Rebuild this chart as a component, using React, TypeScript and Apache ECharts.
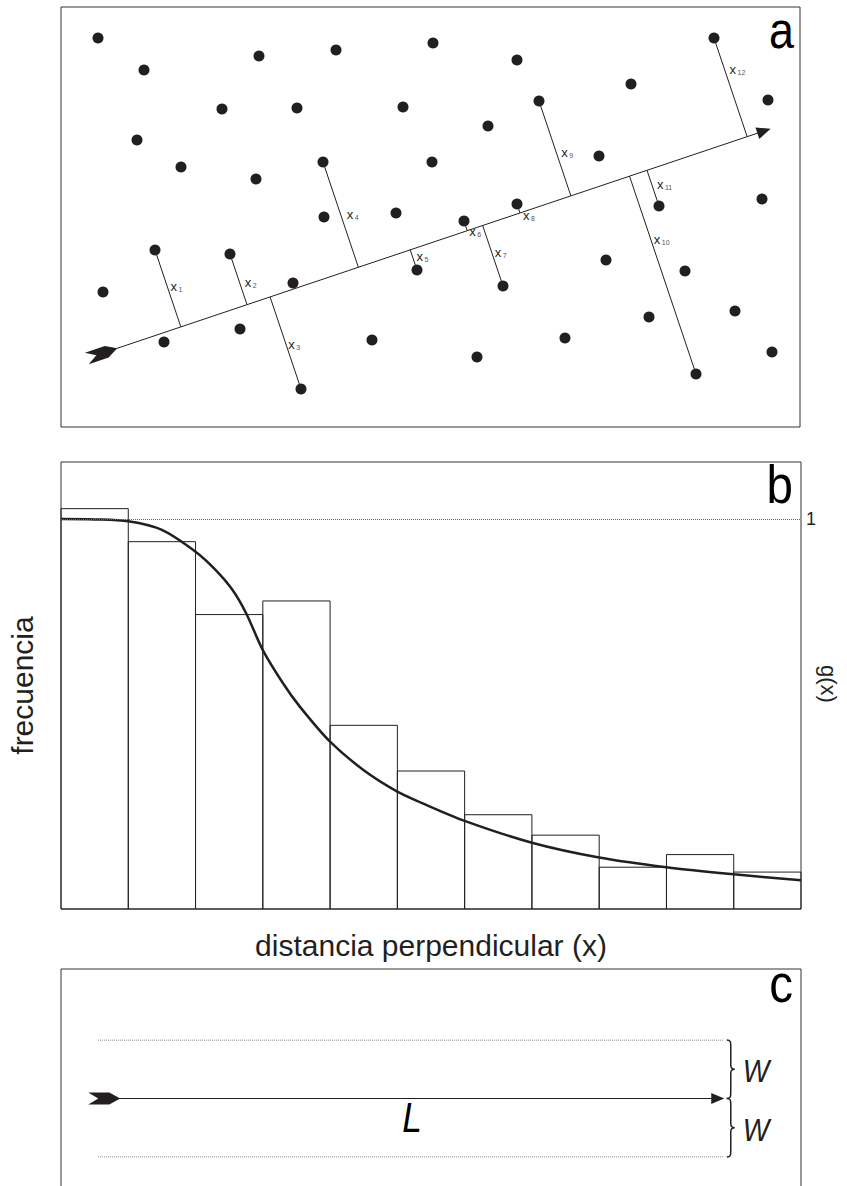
import React, { useEffect, useRef } from 'react';
import * as echarts from 'echarts';

// ---------- Panel a: objects in the study area (units: x from left, y from bottom) ----------
const DOT_X = [37, 83, 198, 275, 372, 456, 653, 161, 236, 342, 427, 478, 570, 707, 76, 120, 195, 262, 371, 538, 263, 335, 403, 456, 598, 701, 94, 169, 42, 232, 356, 442, 545, 624, 103, 179, 240, 311, 416, 504, 588, 674, 635, 711];
const DOT_Y = [389, 357, 371, 377, 384, 367, 389, 318, 319, 320, 301, 326, 343, 327, 287, 260, 248, 265, 265, 271, 210, 214, 206, 223, 221, 228, 177, 173, 135, 144, 157, 141, 167, 156, 85, 98, 38, 87, 70, 89, 110, 116, 53, 75];
const TRANSECT_START = [41, 73.6];
const TRANSECT_END = [703, 296];
// indices (into DOT_X / DOT_Y) of the detected objects x1 ... x12
const DETECTED = [26, 27, 36, 17, 30, 22, 31, 23, 11, 42, 24, 6];
const DETECTED_LABELS = ['1', '2', '3', '4', '5', '6', '7', '8', '9', '10', '11', '12'];

// ---------- Panel b: histogram of perpendicular distances and detection function ----------
const BIN_FREQ = [41.2, 37.8, 30.3, 31.7, 18.9, 14.2, 9.7, 7.6, 4.3, 5.6, 3.8];
const G_X = [0, 0.5, 1, 1.5, 2, 2.3, 2.55, 2.75, 3, 3.3, 3.55, 4, 4.5, 5, 5.35, 6, 7, 8, 9, 10, 11];
const G_Y = [1.0, 0.999, 0.994, 0.972, 0.916, 0.869, 0.818, 0.759, 0.664, 0.579, 0.519, 0.429, 0.356, 0.301, 0.273, 0.226, 0.17, 0.132, 0.107, 0.089, 0.074];
const FREQ_MAX = 46;
const G_MAX = 1.1462;

// ---------- Panel c: strip transect ----------
const STRIP_LENGTH = 100; // L
const STRIP_HALF_WIDTH = 1; // w
const TRANSECT_C = [1, 99];
const BRACE_AT = 100.6;

// ---------- layout / style constants ----------
const INK = '#231f20';
const FONT = '"Liberation Sans", Arial, sans-serif';
const FLETCH = 'path://M0,0 L6,10 L12,0 L12,21 L6,32 L0,21 Z';
const LABEL_T = [0.48, 0.57, 0.48, 0.5, 0.65, 1, 0.55, 1, 0.54, 0.68, 0.59, 0.32];
const LABEL_DX = [3, 5, 2, 6, 4, 2, 3, 3, 5, 3, 5, 5];
const LABEL_DY = [0, 0, 0, 0, 0, 1, 0, 3, 0, 0, 0, 0];

function footOnTransect(px: number, py: number): number[] {
  const [ax, ay] = TRANSECT_START;
  const [bx, by] = TRANSECT_END;
  const dx = bx - ax;
  const dy = by - ay;
  const t = ((px - ax) * dx + (py - ay) * dy) / (dx * dx + dy * dy);
  return [ax + t * dx, ay + t * dy];
}

function panelLetter(text: string, x: number, y: number, size: number) {
  return {
    type: 'text', silent: true, x, y, scaleX: 0.88,
    style: {
      text, fill: '#000', fontSize: size, lineHeight: 36, fontFamily: FONT,
      align: 'right', verticalAlign: 'middle', textAlign: 'right', textVerticalAlign: 'middle',
    },
  };
}

export default function App() {
  const ref = useRef<HTMLDivElement>(null);

  useEffect(() => {
    if (!ref.current) return;
    const chart = echarts.init(ref.current, undefined, { renderer: 'svg' });

    const gridBase = { outerBoundsMode: 'none', containLabel: false, backgroundColor: 'transparent' };

    const option: any = {
      animation: false,
      textStyle: { fontFamily: FONT },
      grid: [
        { ...gridBase, left: 61, top: 7, width: 739, height: 420, show: true, borderColor: '#333', borderWidth: 1 },
        { ...gridBase, left: 61, top: 462, width: 740, height: 447, show: true, borderColor: '#333', borderWidth: 1 },
        { ...gridBase, left: 98, top: 1040, width: 626, height: 117, show: false },
      ],
      xAxis: [
        { gridIndex: 0, type: 'value', min: 0, max: 739, show: false },
        {
          gridIndex: 1, type: 'value', min: 0, max: BIN_FREQ.length,
          axisLine: { show: false }, axisTick: { show: false }, axisLabel: { show: false }, splitLine: { show: false },
          name: 'distancia perpendicular (x)', nameLocation: 'middle', nameGap: 21,
          nameTextStyle: { fontSize: 30, color: INK, fontFamily: FONT },
        },
        { gridIndex: 2, type: 'value', min: 0, max: STRIP_LENGTH, show: false },
      ],
      yAxis: [
        { gridIndex: 0, type: 'value', min: 0, max: 420, show: false },
        {
          gridIndex: 1, type: 'value', min: 0, max: FREQ_MAX,
          axisLine: { show: false }, axisTick: { show: false }, axisLabel: { show: false }, splitLine: { show: false },
          name: 'frecuencia', nameLocation: 'middle', nameRotate: 90, nameGap: 24,
          nameTextStyle: { fontSize: 30, color: INK, fontFamily: FONT },
        },
        {
          gridIndex: 1, type: 'value', position: 'right', min: 0, max: G_MAX, interval: 1,
          axisLine: { show: false }, axisTick: { show: false }, splitLine: { show: false },
          axisLabel: {
            margin: 5, fontSize: 18, color: INK, fontFamily: FONT,
            formatter: (v: number) => (Math.abs(v - 1) < 1e-6 ? '1' : ''),
          },
        },
        { gridIndex: 2, type: 'value', min: -STRIP_HALF_WIDTH, max: STRIP_HALF_WIDTH, show: false },
      ],
      series: [
        // perpendicular distances x1..x12
        {
          type: 'custom', xAxisIndex: 0, yAxisIndex: 0, z: 2, silent: true,
          data: DETECTED.map((d, i) => [DOT_X[d], DOT_Y[d], i]),
          encode: { x: 0, y: 1 },
          renderItem: (_p: any, api: any) => {
            const px = api.value(0);
            const py = api.value(1);
            const i = api.value(2);
            const foot = footOnTransect(px, py);
            const p0 = api.coord([px, py]);
            const p1 = api.coord(foot);
            const t = LABEL_T[i];
            const lx = p0[0] + (p1[0] - p0[0]) * t + LABEL_DX[i];
            const ly = p0[1] + (p1[1] - p0[1]) * t + LABEL_DY[i];
            return {
              type: 'group',
              children: [
                { type: 'line', shape: { x1: p0[0], y1: p0[1], x2: p1[0], y2: p1[1] }, style: { stroke: INK, lineWidth: 1 } },
                { type: 'text', x: lx, y: ly, style: { text: 'x', fill: INK, fontSize: 13, fontFamily: FONT, align: 'left', verticalAlign: 'middle', textAlign: 'left', textVerticalAlign: 'middle' } },
                { type: 'text', x: lx + 8, y: ly + 3, style: { text: DETECTED_LABELS[i], fill: '#555', fontSize: 7, fontFamily: FONT, align: 'left', verticalAlign: 'middle', textAlign: 'left', textVerticalAlign: 'middle' } },
              ],
            };
          },
        },
        // objects + transect
        {
          type: 'scatter', xAxisIndex: 0, yAxisIndex: 0, z: 3, silent: true,
          symbolSize: 11,
          itemStyle: { color: INK, opacity: 1 },
          data: DOT_X.map((x, i) => [x, DOT_Y[i]]),
          markLine: {
            silent: true, animation: false,
            label: { show: false },
            lineStyle: { color: INK, width: 1, type: 'solid' },
            emphasis: { disabled: true },
            data: [[
              { coord: TRANSECT_START, symbol: FLETCH, symbolSize: [12, 32] },
              { coord: TRANSECT_END, symbol: 'triangle', symbolSize: [12, 14] },
            ]],
          },
        },
        // histogram bars
        {
          type: 'custom', xAxisIndex: 1, yAxisIndex: 1, z: 2, silent: true,
          data: BIN_FREQ.map((v, i) => [i, i + 1, v]),
          encode: { x: [0, 1], y: 2 },
          renderItem: (_p: any, api: any) => {
            const a = api.coord([api.value(0), 0]);
            const b = api.coord([api.value(1), api.value(2)]);
            return {
              type: 'rect',
              shape: { x: a[0], y: b[1], width: b[0] - a[0], height: a[1] - b[1] },
              style: { fill: 'none', stroke: INK, lineWidth: 1 },
            };
          },
        },
        // detection function g(x)
        {
          type: 'line', xAxisIndex: 1, yAxisIndex: 2, z: 3, silent: true,
          data: G_X.map((x, i) => [x, G_Y[i]]),
          smooth: 0.3, showSymbol: false, symbol: 'none',
          lineStyle: { color: INK, width: 2.5 },
          markLine: {
            silent: true, animation: false, symbol: 'none',
            label: { show: false },
            lineStyle: { color: '#666', width: 1, type: [1, 1] },
            emphasis: { disabled: true },
            data: [{ yAxis: 1 }],
          },
        },
        // strip boundaries (±w)
        {
          type: 'line', xAxisIndex: 2, yAxisIndex: 3, silent: true, symbol: 'none',
          data: [[0, STRIP_HALF_WIDTH], [STRIP_LENGTH, STRIP_HALF_WIDTH]],
          lineStyle: { color: '#666', width: 1, type: [1, 1] },
        },
        {
          type: 'line', xAxisIndex: 2, yAxisIndex: 3, silent: true, symbol: 'none',
          data: [[0, -STRIP_HALF_WIDTH], [STRIP_LENGTH, -STRIP_HALF_WIDTH]],
          lineStyle: { color: '#666', width: 1, type: [1, 1] },
          markLine: {
            silent: true, animation: false,
            label: { show: false },
            lineStyle: { color: INK, width: 1, type: 'solid' },
            emphasis: { disabled: true },
            data: [[
              { coord: [TRANSECT_C[0], 0], symbol: FLETCH, symbolSize: [12, 32] },
              { coord: [TRANSECT_C[1], 0], symbol: 'triangle', symbolSize: [11, 13] },
            ]],
          },
        },
        // braces with W
        {
          type: 'custom', xAxisIndex: 2, yAxisIndex: 3, silent: true,
          data: [[BRACE_AT, STRIP_HALF_WIDTH, 0], [BRACE_AT, 0, -STRIP_HALF_WIDTH]],
          encode: { x: 0, y: [1, 2] },
          renderItem: (_p: any, api: any) => {
            const top = api.coord([api.value(0), api.value(1)]);
            const bot = api.coord([api.value(0), api.value(2)]);
            const x0 = top[0];
            const y0 = top[1];
            const y1 = bot[1];
            const ym = (y0 + y1) / 2;
            const d =
              `M${x0 - 1},${y0} C${x0 + 3},${y0} ${x0 + 3},${y0 + 2} ${x0 + 3},${y0 + 6} ` +
              `L${x0 + 3},${ym - 4} C${x0 + 3},${ym - 1} ${x0 + 5},${ym} ${x0 + 7},${ym} ` +
              `C${x0 + 5},${ym} ${x0 + 3},${ym + 1} ${x0 + 3},${ym + 4} ` +
              `L${x0 + 3},${y1 - 6} C${x0 + 3},${y1 - 2} ${x0 + 3},${y1} ${x0 - 1},${y1}`;
            return {
              type: 'group',
              children: [
                { type: 'path', shape: { pathData: d }, style: { fill: 'none', stroke: INK, lineWidth: 1.5 } },
                { type: 'text', x: x0 + 15, y: ym + 2, scaleX: 0.88, style: { text: 'W', fill: INK, fontSize: 32, fontStyle: 'italic', fontFamily: FONT, align: 'left', verticalAlign: 'middle', textAlign: 'left', textVerticalAlign: 'middle' } },
              ],
            };
          },
        },
      ],
      graphic: [
        { type: 'rect', silent: true, shape: { x: 61, y: 969, width: 740, height: 400 }, style: { fill: 'none', stroke: '#333', lineWidth: 1 } },
        panelLetter('a', 794, 30, 51),
        panelLetter('b', 793, 484, 54),
        panelLetter('c', 793, 983, 54),
        { type: 'text', silent: true, x: 412, y: 1117, scaleX: 0.82, style: { text: 'L', fill: '#000', fontSize: 43, fontStyle: 'italic', fontFamily: FONT, align: 'center', verticalAlign: 'middle', textAlign: 'center', textVerticalAlign: 'middle' } },
        { type: 'text', silent: true, x: 828, y: 684, rotation: -Math.PI / 2, style: { text: 'g(x)', fill: INK, fontSize: 22, fontFamily: FONT, align: 'center', verticalAlign: 'middle', textAlign: 'center', textVerticalAlign: 'middle' } },
      ],
    };

    chart.setOption(option);
    return () => chart.dispose();
  }, []);

  return (
    <div
      ref={ref}
      style={{ position: 'absolute', left: 0, top: 0, width: 847, height: 1186, background: '#fff' }}
    />
  );
}
